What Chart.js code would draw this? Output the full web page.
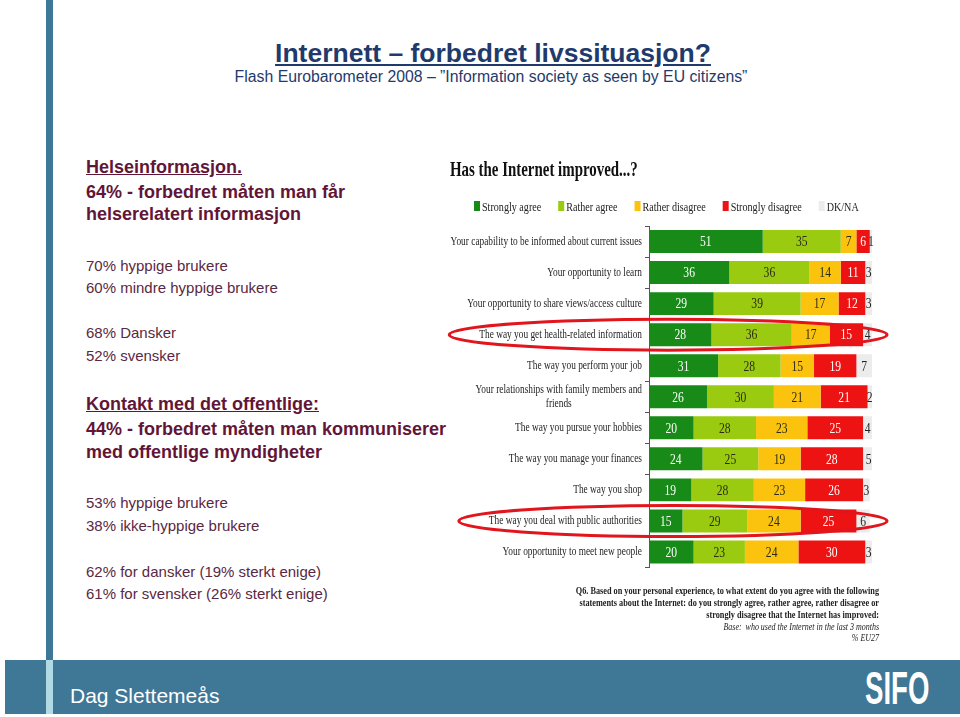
<!DOCTYPE html>
<html>
<head>
<meta charset="utf-8">
<script src="https://cdn.jsdelivr.net/npm/chart.js@4.4.1/dist/chart.umd.min.js"></script>
<style>
body { margin:0; width:960px; height:717px; overflow:hidden; background:#fff; position:relative; font-family:"Liberation Sans", Arial, sans-serif; }
.t { position:absolute; white-space:nowrap; line-height:1; }
.b { font-weight:bold; font-size:18px; color:#621637; }
.r { font-size:15px; color:#5a2843; }
.u { text-decoration:underline; }
#vbar { position:absolute; left:46px; top:0; width:7px; height:660px; background:#3f7796; }
#band { position:absolute; left:5px; top:660px; width:955px; height:54px; background:#3f7796; }
#strip { position:absolute; left:46px; top:660px; width:7px; height:54px; background:#b0dbe5; }
#chart { position:absolute; left:0; top:0; }
</style>
</head>
<body>
<div id="vbar"></div>
<div id="band"></div>
<div id="strip"></div>

<div class="t u" style="left:493px;top:40px;transform:translateX(-50%);font-size:26.5px;font-weight:bold;color:#1f3a6b">Internett – forbedret livssituasjon?</div>
<div class="t" style="left:491px;top:69px;transform:translateX(-50%);font-size:15.8px;color:#1f3a6b">Flash Eurobarometer 2008 – ”Information society as seen by EU citizens”</div>

<div class="t b u" style="left:86px;top:157.8px">Helseinformasjon.</div>
<div class="t b" style="left:86px;top:182.8px">64% - forbedret måten man får</div>
<div class="t b" style="left:86px;top:204.8px">helserelatert informasjon</div>
<div class="t r" style="left:86px;top:258.3px">70% hyppige brukere</div>
<div class="t r" style="left:86px;top:280.3px">60% mindre hyppige brukere</div>
<div class="t r" style="left:86px;top:325.3px">68% Dansker</div>
<div class="t r" style="left:86px;top:348.3px">52% svensker</div>
<div class="t b u" style="left:86px;top:394.8px">Kontakt med det offentlige:</div>
<div class="t b" style="left:86px;top:419.8px">44% - forbedret måten man kommuniserer</div>
<div class="t b" style="left:86px;top:442.8px">med offentlige myndigheter</div>
<div class="t r" style="left:86px;top:495.3px">53% hyppige brukere</div>
<div class="t r" style="left:86px;top:518.3px">38% ikke-hyppige brukere</div>
<div class="t r" style="left:86px;top:564.3px">62% for dansker (19% sterkt enige)</div>
<div class="t r" style="left:86px;top:586.3px">61% for svensker (26% sterkt enige)</div>

<div class="t" style="left:70px;top:685px;font-size:21px;color:#fff">Dag Slettemeås</div>
<div class="t" style="left:865px;top:665px;font-size:46px;font-weight:bold;color:#fff;transform:scaleX(0.6);transform-origin:0 0">SIFO</div>

<canvas id="chart" width="960" height="717"></canvas>

<script>
// question items, top to bottom
const categories = [
    "Your capability to be informed about current issues",
    "Your opportunity to learn",
    "Your opportunity to share views/access culture",
    "The way you get health-related information",
    "The way you perform your job",
    ["Your relationships with family members and", "friends"],
    "The way you pursue your hobbies",
    "The way you manage your finances",
    "The way you shop",
    "The way you deal with public authorities",
    "Your opportunity to meet new people",
];
const seriesNames = ["Strongly agree", "Rather agree", "Rather disagree", "Strongly disagree", "DK/NA"];
const stronglyAgree    = [51, 36, 29, 28, 31, 26, 20, 24, 19, 15, 20];
const ratherAgree      = [35, 36, 39, 36, 28, 30, 28, 25, 28, 29, 23];
const ratherDisagree   = [7, 14, 17, 17, 15, 21, 23, 19, 23, 24, 24];
const stronglyDisagree = [6, 11, 12, 15, 19, 21, 25, 28, 26, 25, 30];
const dkNa             = [1, 3, 3, 4, 7, 2, 4, 5, 3, 6, 3];
// rows circled in red
const circled = [3, 9];

const colors = ["#178a17", "#9bcb10", "#fbc30d", "#ee1313", "#ececec"];
const labelColors = ["#ffffff", "#2b2b14", "#2b2b14", "#ffffff", "#222222"];
const SQ = 0.76; // the source picture is squeezed sideways
const serif = '"Liberation Serif", "Times New Roman", serif';

function squeezed(c, txt, x, y, align, sx) {
    c.save();
    c.translate(x, y);
    c.scale(sx || SQ, 1);
    c.textAlign = align;
    c.fillText(txt, 0, 0);
    c.restore();
}

const decor = {
    id: "decor",
    afterDraw(chart) {
        const c = chart.ctx;
        const area = chart.chartArea;
        const ys = chart.scales.y;
        c.save();
        c.textBaseline = "alphabetic";

        // title
        c.fillStyle = "#111";
        c.font = "bold 21px " + serif;
        squeezed(c, "Has the Internet improved...?", 450, 176, "left", 0.71);

        // legend
        c.font = "13.3px " + serif;
        let lx = 474;
        chart.data.datasets.forEach((ds) => {
            c.fillStyle = ds.backgroundColor;
            c.fillRect(lx, 201, 6, 10);
            c.fillStyle = "#222";
            squeezed(c, ds.label, lx + 8, 210.5, "left");
            lx += 8 + c.measureText(ds.label).width * SQ + 17;
        });

        // category labels
        c.textBaseline = "middle";
        c.font = "12.3px " + serif;
        c.fillStyle = "#1e1e1e";
        const xr = area.left - 7;
        const labelLeft = [];
        categories.forEach((lab, i) => {
            const y = ys.getPixelForValue(i);
            if (Array.isArray(lab)) {
                const w = c.measureText(lab[0]).width * SQ;
                squeezed(c, lab[0], xr, y - 7, "right");
                squeezed(c, lab[1], xr - w / 2, y + 7, "center");
                labelLeft.push(xr - w);
            } else {
                squeezed(c, lab, xr, y, "right");
                labelLeft.push(xr - c.measureText(lab).width * SQ);
            }
        });

        // values inside the bars
        c.font = "14.5px " + serif;
        chart.data.datasets.forEach((ds, di) => {
            c.fillStyle = labelColors[di];
            chart.getDatasetMeta(di).data.forEach((bar, i) => {
                const cx = (bar.x + bar.base) / 2;
                squeezed(c, String(ds.data[i]), cx, bar.y + 1, "center", 0.8);
            });
        });

        // red ellipses
        c.strokeStyle = "#e2141c";
        c.lineWidth = 3;
        circled.forEach((i) => {
            const y = ys.getPixelForValue(i);
            const x0 = labelLeft[i] - 30;
            const x1 = area.right + 15;
            c.beginPath();
            c.ellipse((x0 + x1) / 2, y, (x1 - x0) / 2, 15.5, 0, 0, Math.PI * 2);
            c.stroke();
        });

        // question note
        c.textBaseline = "alphabetic";
        c.fillStyle = "#222";
        c.font = "bold 11px " + serif;
        squeezed(c, "Q6. Based on your personal experience, to what extent do you agree with the following", 879, 594, "right", 0.75);
        squeezed(c, "statements about the Internet: do you strongly agree, rather agree, rather disagree or", 879, 606, "right", 0.75);
        squeezed(c, "strongly disagree that the Internet has improved:", 879, 618, "right", 0.75);
        c.font = "italic 10.5px " + serif;
        squeezed(c, "Base:  who used the Internet in the last 3 months", 879, 630, "right", 0.76);
        squeezed(c, "% EU27", 879, 641, "right", 0.76);
        c.restore();
    },
};

const seriesData = [stronglyAgree, ratherAgree, ratherDisagree, stronglyDisagree, dkNa];

new Chart(document.getElementById("chart"), {
    type: "bar",
    data: {
        labels: categories,
        datasets: seriesNames.map((name, k) => ({
            label: name,
            data: seriesData[k],
            backgroundColor: colors[k],
            borderWidth: 0,
            barPercentage: 0.74,
            categoryPercentage: 1,
        })),
    },
    options: {
        indexAxis: "y",
        responsive: false,
        animation: false,
        devicePixelRatio: 1,
        layout: { padding: { top: 226, bottom: 149.5, left: 0, right: 88 } },
        plugins: {
            legend: { display: false },
            title: { display: false },
            tooltip: { enabled: false },
        },
        scales: {
            x: { stacked: true, min: 0, max: 100, display: false },
            y: {
                stacked: true,
                offset: true,
                grid: { offset: true, drawOnChartArea: false, tickLength: 4, color: "#555" },
                border: { color: "#555" },
                ticks: { display: false },
                afterFit: (s) => { s.width = 649; },
            },
        },
    },
    plugins: [decor],
});
</script>
</body>
</html>
